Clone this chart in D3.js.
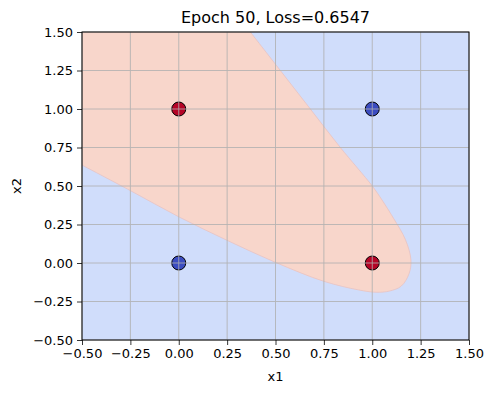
<!DOCTYPE html>
<html>
<head>
<meta charset="utf-8">
<script src="https://cdn.jsdelivr.net/npm/d3@7"></script>
<style>
  body { margin: 0; background: #fff; }
  text { font-family: "DejaVu Sans", sans-serif; fill: #000; }
</style>
</head>
<body>
<div id="chart"></div>
<script>
// XOR points and labels
const pointX = [0, 0, 1, 1];
const pointY = [0, 1, 0, 1];
const pointClass = [0, 1, 1, 0];

// decision boundary, x1 / x2 in data units
const boundaryX = [0.37, 0.525, 0.68, 0.835, 1.0, 1.05, 1.11, 1.172, 1.2, 1.19, 1.15, 1.09, 1.02, 0.93, 0.75, 0.5, 0.25, 0.0, -0.25, -0.5];
const boundaryY = [1.5, 1.25, 1.0, 0.75, 0.5, 0.41, 0.29, 0.15, 0.02, -0.07, -0.15, -0.182, -0.19, -0.175, -0.119, 0.004, 0.147, 0.30, 0.47, 0.636];

const tickValues = [-0.5, -0.25, 0, 0.25, 0.5, 0.75, 1.0, 1.25, 1.5];
const epoch = 50;
const loss = 0.6547;

const width = 494, height = 393;
const margin = {left: 82, right: 25, top: 32, bottom: 53};

const svg = d3.select('#chart').append('svg')
  .attr('width', width)
  .attr('height', height);

const x = d3.scaleLinear().domain([-0.5, 1.5]).range([margin.left, width - margin.right]);
const y = d3.scaleLinear().domain([-0.5, 1.5]).range([height - margin.bottom, margin.top]);

svg.append('clipPath').attr('id', 'plotclip')
  .append('rect')
  .attr('x', x(-0.5)).attr('y', y(1.5))
  .attr('width', x(1.5) - x(-0.5)).attr('height', y(-0.5) - y(1.5));

// background (class 0 region)
svg.append('rect')
  .attr('x', x(-0.5)).attr('y', y(1.5))
  .attr('width', x(1.5) - x(-0.5)).attr('height', y(-0.5) - y(1.5))
  .attr('fill', '#d0ddfb');

// class 1 region
let region = boundaryX.map((d, i) => [d, boundaryY[i]]);
let line = d3.line()
  .x(d => x(d[0])).y(d => y(d[1]))
  .curve(d3.curveCatmullRom.alpha(0.5));
let edge = line(region);
svg.append('path')
  .attr('clip-path', 'url(#plotclip)')
  .attr('d', edge + 'L' + x(-0.5) + ',' + y(1.5) + 'Z')
  .attr('fill', '#f8d6cb');
svg.append('path')
  .attr('clip-path', 'url(#plotclip)')
  .attr('d', edge)
  .attr('fill', 'none')
  .attr('stroke', '#e9c3c2')
  .attr('stroke-width', 0.8);

// points
svg.append('g')
  .selectAll('circle')
  .data(pointX)
  .enter().append('circle')
    .attr('cx', d => x(d))
    .attr('cy', (d, i) => y(pointY[i]))
    .attr('r', 7)
    .attr('fill', (d, i) => pointClass[i] === 1 ? '#b40426' : '#3b4cc0')
    .attr('stroke', '#000')
    .attr('stroke-width', 1);

// grid (drawn over the points)
let grid = svg.append('g').attr('stroke', '#b0b0b0').attr('stroke-width', 0.9).attr('opacity', 0.9);
tickValues.forEach(t => {
  grid.append('line')
    .attr('x1', x(t)).attr('x2', x(t))
    .attr('y1', y(-0.5)).attr('y2', y(1.5));
  grid.append('line')
    .attr('x1', x(-0.5)).attr('x2', x(1.5))
    .attr('y1', y(t)).attr('y2', y(t));
});

const fmt = v => d3.format('.2f')(v).replace('-', '\u2212');

// axes
let xAxis = d3.axisBottom(x).tickValues(tickValues).tickFormat(fmt).tickSize(5).tickPadding(4);
let yAxis = d3.axisLeft(y).tickValues(tickValues).tickFormat(fmt).tickSize(5).tickPadding(4);

let gx = svg.append('g')
  .attr('transform', 'translate(0,' + y(-0.5) + ')')
  .call(xAxis);
let gy = svg.append('g')
  .attr('transform', 'translate(' + x(-0.5) + ',0)')
  .call(yAxis);
[gx, gy].forEach(g => {
  g.select('.domain').remove();
  g.selectAll('line').attr('stroke', '#000').attr('stroke-width', 0.8);
  g.selectAll('text').style('font-family', '"DejaVu Sans", sans-serif').style('font-size', '13px').attr('fill', '#000');
});

// frame
svg.append('rect')
  .attr('x', x(-0.5)).attr('y', y(1.5))
  .attr('width', x(1.5) - x(-0.5)).attr('height', y(-0.5) - y(1.5))
  .attr('fill', 'none').attr('stroke', '#000').attr('stroke-width', 1);

// labels
svg.append('text')
  .attr('x', (x(-0.5) + x(1.5)) / 2).attr('y', 23)
  .attr('text-anchor', 'middle')
  .style('font-size', '16px')
  .text('Epoch ' + epoch + ', Loss=' + loss.toFixed(4));

svg.append('text')
  .attr('x', (x(-0.5) + x(1.5)) / 2).attr('y', 381)
  .attr('text-anchor', 'middle')
  .style('font-size', '13px')
  .text('x1');

svg.append('text')
  .attr('transform', 'translate(21,' + ((y(-0.5) + y(1.5)) / 2) + ') rotate(-90)')
  .attr('text-anchor', 'middle')
  .style('font-size', '13px')
  .text('x2');
</script>
</body>
</html>
